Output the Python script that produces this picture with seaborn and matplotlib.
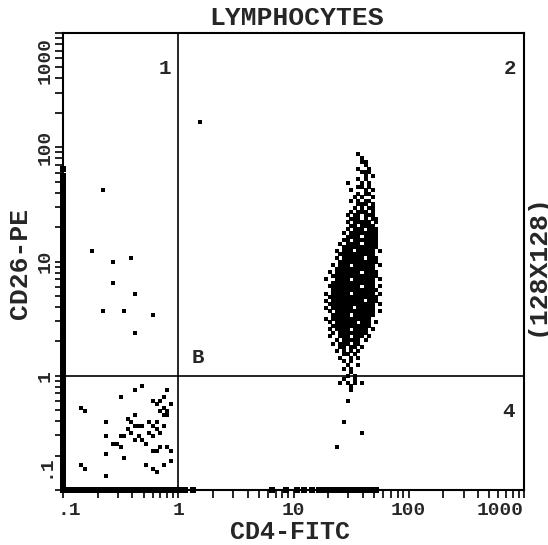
import numpy as np
import pandas as pd
import matplotlib
matplotlib.use("Agg")
import matplotlib.pyplot as plt
import matplotlib.transforms as mtransforms
from matplotlib.ticker import LogLocator, NullFormatter
import seaborn as sns

# 128x128 channel dot plot, 4 decades (0.1 .. 1000) over 128 channels
N_CHANNELS = 128
DECADES = 4
MIN_VALUE = 0.1

# main CD4+ cluster, one string per y channel (top row = channel 94), columns start at x channel 72
CLUSTER_TOP = 94
CLUSTER_X0 = 72
CLUSTER_ROWS = [
    "..........#.......",  # 94
    "...........#......",
    "...........##.....",
    "............#.....",
    "..........#..#....",  # 90
    "...........###....",
    "............#.#...",
    "..........#.#.....",
    ".......#...#.#....",
    "..........##.#....",  # 85
    "........#...#.#...",
    "..........#.##....",
    ".........#.#..#...",
    "........#.#.##....",
    "..........###.#...",  # 80
    ".........#.#.##...",
    "........#.###.#...",
    ".......#.##.###...",
    "........###.#.##..",
    ".......#.#####.#..",  # 75
    "........##.####...",
    ".......#.###.###..",
    "......#.########..",
    ".......####.####..",
    "......##.#######..",  # 70
    ".....#.####.####..",
    "......##########..",
    "....#.###.#####.#.",
    ".....##########...",
    "....#.######.###..",  # 65
    ".....###########..",
    "...#.###.######.#.",
    "....###########...",
    "..#.#######.####..",
    "...#############..",  # 60
    ".#..####.######.#.",
    "...############...",
    "..#########.###.#.",
    "...#############..",
    ".#.#####.######.#.",  # 55
    "..##############..",
    ".#.#########.###..",
    "..#############.#.",
    ".#.######.#####...",
    "..#.###########.#.",  # 50
    "...#####.######...",
    ".#.###########....",
    "..#.######.###.#..",
    "...###########....",
    "..#.####.####.#...",  # 45
    "...#.########.....",
    "..#..###.###.#....",
    "....#.#####.#.....",
    "...#.###.##.......",
    ".....##.##.#......",  # 40
    "....#.#.#.#.......",
    "......##.#........",
    ".....#..#.#.......",
    "......#.#.........",
    ".......#..#.......",  # 35
    "......#.#.........",
    "........#.........",
    ".......#.#........",
    "......#..#........",
    ".....#.#.#.#......",  # 30
]

# CD4+ events below the CD26 gate
tail_x = [80, 80, 79, 78, 83, 76]
tail_y = [29, 28, 25, 19, 16, 12]

# double negative events (lower left)
neg_x = [5, 6, 5, 6, 12, 12, 12, 12, 16, 20, 22, 20, 17, 14, 16, 18, 19, 20, 21, 22,
         24, 25, 26, 18, 19, 17, 21, 22, 24, 25, 27, 28, 25, 26, 27, 28, 29, 30, 28, 29,
         29, 25, 26, 27, 29, 30, 23, 25, 26, 28, 30, 15, 20, 16, 26, 23, 28, 27]
neg_y = [23, 22, 7, 6, 19, 15, 10, 4, 26, 28, 29, 21, 9, 13, 12, 20, 19, 18, 18, 18,
         19, 18, 17, 17, 16, 15, 15, 14, 16, 15, 16, 18, 25, 24, 25, 23, 22, 24, 21, 21,
         28, 11, 11, 12, 12, 11, 7, 6, 5, 7, 8, 13, 14, 15, 19, 13, 26, 22]

# scattered CD26+ CD4- events and one CD4 dim event
upper_x = [11, 8, 14, 19, 14, 20, 11, 17, 25, 20, 38]
upper_y = [84, 67, 64, 65, 58, 55, 50, 50, 49, 44, 103]

# off-scale events piled up on the axes
edge_left_y = [0, 1, 2, 3, 4, 5, 6, 7, 8, 9, 10, 11, 12, 13, 14, 15, 16, 17, 18, 19,
               20, 21, 22, 23, 24, 25, 26, 27, 28, 29, 30, 31, 32, 33, 34, 35, 36, 37, 38, 39,
               40, 41, 42, 43, 44, 45, 46, 47, 48, 49, 50, 51, 52, 53, 54, 55, 56, 57, 58, 59,
               60, 61, 62, 63, 64, 65, 66, 67, 68, 69, 70, 71, 72, 73, 74, 75, 76, 77, 78, 79,
               80, 81, 82, 83, 84, 85, 86, 87, 88, 90]
edge_bottom_x = [0, 1, 2, 3, 4, 5, 6, 7, 8, 9, 10, 11, 12, 13, 14, 15, 16, 17, 18, 19,
                 20, 21, 22, 23, 24, 25, 26, 27, 28, 29, 30, 31, 32, 33, 34, 36,
                 58, 62, 65, 67, 69, 71, 72, 73, 74, 75, 76, 77, 78, 79, 80, 81, 82, 83, 84,
                 85, 86, 87]

x_ticks = [0.1, 1, 10, 100, 1000]
x_tick_labels = [".1", "1", "10", "100", "1000"]
y_ticks = [0.1, 1, 10, 100, 1000]
y_tick_labels = [".1", "1", "10", "100", "1000"]


def to_value(ch):
    return MIN_VALUE * 10 ** (np.asarray(ch, dtype=float) * DECADES / N_CHANNELS)


cl_x, cl_y = [], []
for i, row in enumerate(CLUSTER_ROWS):
    for j, c in enumerate(row):
        if c == "#":
            cl_x.append(CLUSTER_X0 + j)
            cl_y.append(CLUSTER_TOP - i)

events = pd.DataFrame({
    "x": cl_x + tail_x + neg_x + upper_x,
    "y": cl_y + tail_y + neg_y + upper_y,
})
events["CD4"] = to_value(events["x"])
events["CD26"] = to_value(events["y"])

edges = pd.DataFrame({
    "x": [0] * len(edge_left_y) + edge_bottom_x,
    "y": edge_left_y + [0] * len(edge_bottom_x),
})
edges["CD4"] = to_value(edges["x"])
edges["CD26"] = to_value(edges["y"])

sns.set_style("white")
plt.rcParams["font.family"] = ["Liberation Mono", "DejaVu Sans Mono"]
plt.rcParams["font.weight"] = "bold"

fig = plt.figure(figsize=(5.48, 5.45), dpi=100)
ax = fig.add_axes([63 / 548, 55 / 545, 461 / 548, 457 / 545])

sns.scatterplot(data=events, x="CD4", y="CD26", marker="s", s=5.5, color="black",
                linewidth=0, ax=ax, legend=False)
sns.scatterplot(data=edges, x="CD4", y="CD26", marker="s", s=14, color="black",
                linewidth=0, ax=ax, legend=False, clip_on=False)

ax.set_xscale("log")
ax.set_yscale("log")
ax.set_xlim(0.1, 1000)
ax.set_ylim(0.1, 1000)

# quadrant markers
ax.axvline(1, color="black", lw=1.2)
ax.axhline(1, color="black", lw=1.2)

ax.set_xticks(x_ticks)
ax.set_xticklabels(x_tick_labels)
ax.set_yticks(y_ticks)
ax.set_yticklabels(y_tick_labels, rotation=90, va="center")
ax.xaxis.set_minor_locator(LogLocator(base=10, subs=np.arange(2, 10)))
ax.yaxis.set_minor_locator(LogLocator(base=10, subs=np.arange(2, 10)))
ax.xaxis.set_minor_formatter(NullFormatter())
ax.yaxis.set_minor_formatter(NullFormatter())
ax.tick_params(which="both", direction="out", length=6, width=1.2, color="black",
               bottom=True, left=True, top=False, right=False)
ax.tick_params(axis="x", labelsize=14, pad=2.5)
ax.tick_params(axis="y", labelsize=14, pad=1)

xl = ax.get_xticklabels()
xl[0].set_transform(xl[0].get_transform() + mtransforms.ScaledTranslation(6 / 100, 0, fig.dpi_scale_trans))
xl[-1].set_ha("right")
yl = ax.get_yticklabels()
yl[0].set_va("bottom")
yl[0].set_transform(yl[0].get_transform() + mtransforms.ScaledTranslation(0, 12 / 100, fig.dpi_scale_trans))
yl[-1].set_va("top")
yl[-1].set_transform(yl[-1].get_transform() + mtransforms.ScaledTranslation(0, -4 / 100, fig.dpi_scale_trans))

for sp in ax.spines.values():
    sp.set_color("black")
    sp.set_linewidth(1.5)

ax.set_xlabel("")
ax.set_ylabel("")

ax.text(0.221, 0.923, "1", transform=ax.transAxes, ha="center", va="center", fontsize=15)
ax.text(0.970, 0.923, "2", transform=ax.transAxes, ha="center", va="center", fontsize=15)
ax.text(0.293, 0.291, "B", transform=ax.transAxes, ha="center", va="center", fontsize=15)
ax.text(0.967, 0.171, "4", transform=ax.transAxes, ha="center", va="center", fontsize=15)

fig.text(297 / 548, 1 - 18 / 545, "LYMPHOCYTES", ha="center", va="center", fontsize=19)
fig.text(290 / 548, 1 - 532 / 545, "CD4-FITC", ha="center", va="center", fontsize=18)
fig.text(20 / 548, 1 - 263 / 545, "CD26-PE", ha="center", va="center", rotation=90, fontsize=19)
fig.text(537 / 548, 1 - 265 / 545, "(128X128)", ha="center", va="center", rotation=90, fontsize=19)

fig.savefig("out.png", dpi=100, facecolor="white")
